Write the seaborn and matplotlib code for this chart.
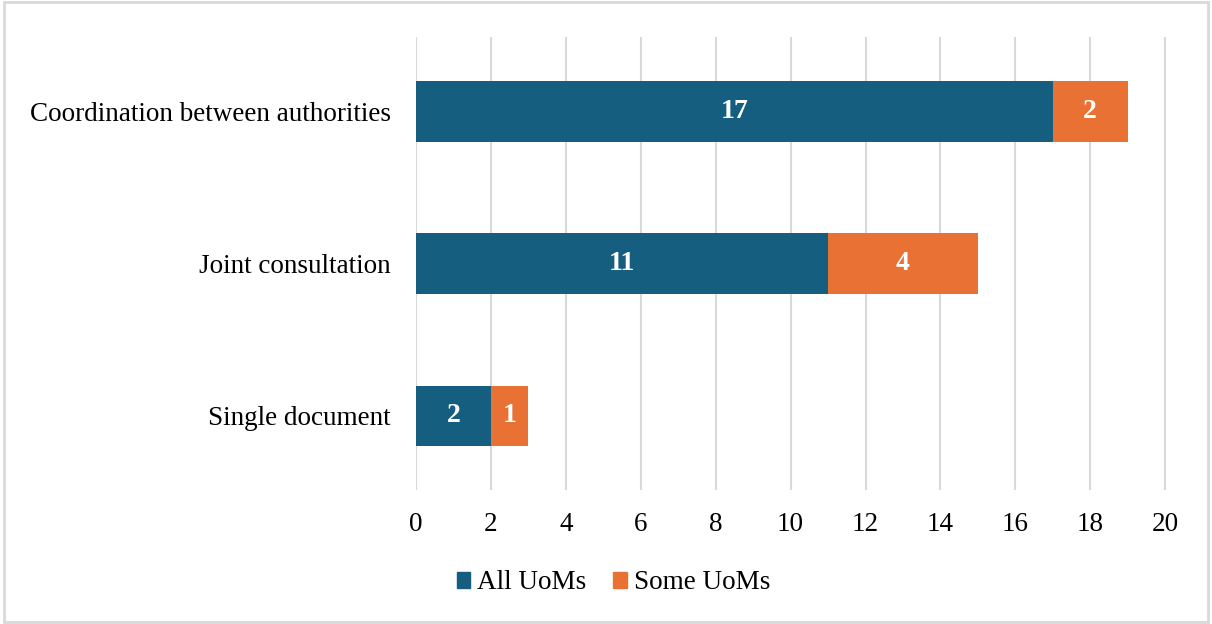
import matplotlib
matplotlib.use("Agg")
import matplotlib.pyplot as plt
import seaborn as sns
import pandas as pd
from matplotlib.patches import Rectangle

categories = ["Coordination between authorities", "Joint consultation", "Single document"]
all_uoms = [17, 11, 2]
some_uoms = [2, 4, 1]
x_ticks = [0, 2, 4, 6, 8, 10, 12, 14, 16, 18, 20]

BLUE = "#165e80"
ORANGE = "#e97133"

sns.set_theme(style="white")
plt.rcParams["font.family"] = ["Liberation Serif", "DejaVu Serif"]

df = pd.DataFrame({"cat": categories, "all": all_uoms, "some": some_uoms})
df["total"] = df["all"] + df["some"]

fig = plt.figure(figsize=(12.12, 6.24), dpi=100)
ax = fig.add_axes([0.3432, 0.2147, 0.6213, 0.726])

sns.barplot(data=df, y="cat", x="total", color=ORANGE, width=0.395, ax=ax,
            saturation=1, orient="h", linewidth=0)
sns.barplot(data=df, y="cat", x="all", color=BLUE, width=0.395, ax=ax,
            saturation=1, orient="h", linewidth=0)

for i, (a, s) in enumerate(zip(all_uoms, some_uoms)):
    ax.text(a / 2, i, str(a), ha="center", va="center", color="white",
            fontsize=20, fontweight="bold")
    ax.text(a + s / 2, i, str(s), ha="center", va="center", color="white",
            fontsize=20, fontweight="bold")

ax.set_xlim(0, 20.1)
ax.set_ylim(2.49, -0.49)
ax.set_xticks(x_ticks)
ax.set_xticklabels([str(t) for t in x_ticks], fontsize=19.5)
ax.tick_params(axis="y", labelsize=19.5, length=0, pad=18)
ax.tick_params(axis="x", length=0, pad=16)
ax.set_xlabel("")
ax.set_ylabel("")
ax.xaxis.grid(True, color="#d9d9d9", linewidth=1.5)
ax.set_axisbelow(True)
for sp in ax.spines.values():
    sp.set_visible(False)
for lbl in ax.get_yticklabels():
    lbl.set_color("#000000")
for lbl in ax.get_xticklabels():
    lbl.set_color("#000000")

if ax.legend_:
    ax.legend_.remove()
handles = [Rectangle((0, 0), 1, 1, color=BLUE), Rectangle((0, 0), 1, 1, color=ORANGE)]
fig.legend(handles, ["All UoMs", "Some UoMs"], loc="center", bbox_to_anchor=(0.506, 0.066),
           ncol=2, frameon=False, fontsize=19.5, handlelength=0.5, handleheight=0.55,
           handletextpad=0.25, columnspacing=1.0, labelcolor="#000000")

fig.patches.append(Rectangle((0.003, 0.003), 0.994, 0.994, transform=fig.transFigure,
                             fill=False, edgecolor="#d9d9d9", linewidth=2))

fig.savefig("out.png", dpi=100)
